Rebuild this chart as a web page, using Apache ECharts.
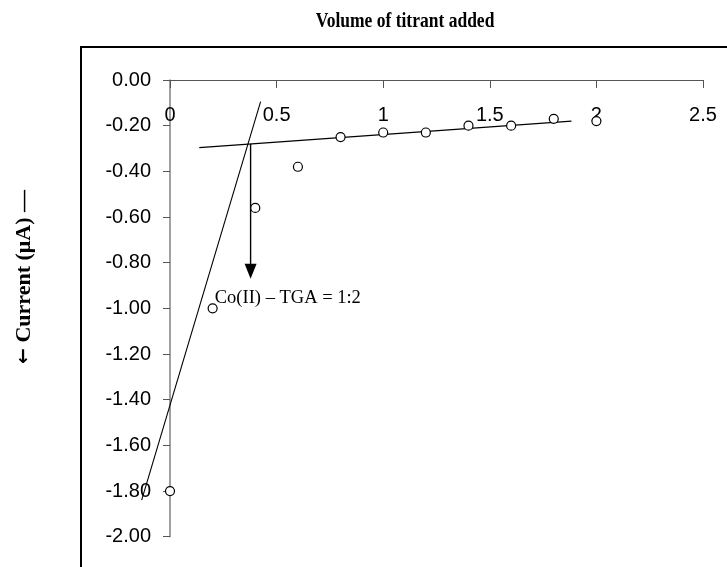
<!DOCTYPE html>
<html><head><meta charset="utf-8">
<script src="https://cdn.jsdelivr.net/npm/echarts@6/dist/echarts.min.js"></script>
<style>html,body{margin:0;padding:0;background:#fff}#c{width:727px;height:567px}</style>
</head><body><div id="c"></div>
<script>
const volume = [0, 0.2, 0.4, 0.6, 0.8, 1.0, 1.2, 1.4, 1.6, 1.8, 2.0];
const current = [-1.80, -1.00, -0.56, -0.38, -0.25, -0.23, -0.23, -0.20, -0.20, -0.17, -0.18];
const steepLine = [[-0.133, -1.84], [0.425, -0.095]];
const flatLine = [[0.137, -0.296], [1.883, -0.180]];
const arrowLine = [[0.378, -0.28], [0.378, -0.83]];
const arrowTip = [0.378, -0.87];
const noteText = 'Co(II) \u2013 TGA = 1:2';
const notePos = [0.21, -0.955];
const titleText = 'Volume of titrant added';
const yNameArrow = '\u2190';
const yNameText = ' Current (\u03bcA) \u2014';

const segments = [steepLine, flatLine];

const chart = echarts.init(document.getElementById('c'), null, {renderer: 'canvas'});
chart.setOption({
  animation: false,
  backgroundColor: '#fff',
  graphic: [
    {type: 'rect', shape: {x: 81, y: 47, width: 1000, height: 1000}, style: {fill: 'none', stroke: '#000', lineWidth: 2}, z: 0},
    {type: 'text', x: 405, y: 22, scaleY: 1.2, style: {text: titleText, fontFamily: 'Liberation Serif', fontWeight: 'bold', fontSize: 17.5, fill: '#000', align: 'center', verticalAlign: 'middle'}},
    {type: 'text', x: 24, y: 277, rotation: Math.PI / 2, style: {
      text: '{a|' + yNameArrow + '}{b|' + yNameText + '}',
      rich: {
        a: {fontFamily: 'DejaVu Sans', fontWeight: 'bold', fontSize: 19, fill: '#000'},
        b: {fontFamily: 'Liberation Serif', fontWeight: 'bold', fontSize: 22, fill: '#000'}
      },
      align: 'center', verticalAlign: 'middle'}}
  ],
  grid: {left: 170, top: 80, right: 24, bottom: 30.3},
  xAxis: {
    type: 'value', position: 'top', min: 0, max: 2.5, interval: 0.5,
    axisLine: {show: true, onZero: false, lineStyle: {color: '#555', width: 1.2}},
    axisTick: {show: true, inside: true, length: 8, lineStyle: {color: '#555'}},
    axisLabel: {inside: true, margin: 25, fontFamily: 'Liberation Sans', fontSize: 20, color: '#000'},
    splitLine: {show: false}
  },
  yAxis: {
    type: 'value', min: -2, max: 0, interval: 0.2,
    axisLine: {show: true, onZero: false, lineStyle: {color: '#808080', width: 1.5}},
    axisTick: {show: true, length: 7, lineStyle: {color: '#555'}},
    axisLabel: {margin: 19, fontFamily: 'Liberation Sans', fontSize: 20, color: '#000', formatter: v => v.toFixed(2)},
    splitLine: {show: false}
  },
  series: [
    {type: 'custom', clip: false, z: 3,
      data: segments.map(s => [s[0][0], s[0][1], s[1][0], s[1][1]]),
      encode: {x: [0, 2], y: [1, 3]},
      renderItem: function (params, api) {
        const p1 = api.coord([api.value(0), api.value(1)]);
        const p2 = api.coord([api.value(2), api.value(3)]);
        return {type: 'line', shape: {x1: p1[0], y1: p1[1], x2: p2[0], y2: p2[1]}, style: {stroke: '#000', lineWidth: 1.1}};
      }},
    {type: 'line', data: arrowLine, symbol: 'none', clip: false, lineStyle: {color: '#000', width: 1.4}, z: 3},
    {type: 'scatter', data: [arrowTip], symbol: 'triangle', symbolRotate: 180, symbolSize: [12, 15], symbolOffset: [0, '-50%'], clip: false,
      itemStyle: {color: '#000', opacity: 1}, z: 3},
    {type: 'scatter', data: volume.map((v, i) => [v, current[i]]), symbol: 'circle', symbolSize: 9, clip: false,
      itemStyle: {color: '#fff', borderColor: '#000', borderWidth: 1.2, opacity: 1}, z: 4},
    {type: 'scatter', data: [notePos], symbolSize: 0, z: 5, itemStyle: {opacity: 1},
      label: {show: true, position: 'right', distance: 0, formatter: noteText, fontFamily: 'Liberation Serif', fontSize: 18.5, color: '#000', opacity: 1}}
  ]
});
</script></body></html>
